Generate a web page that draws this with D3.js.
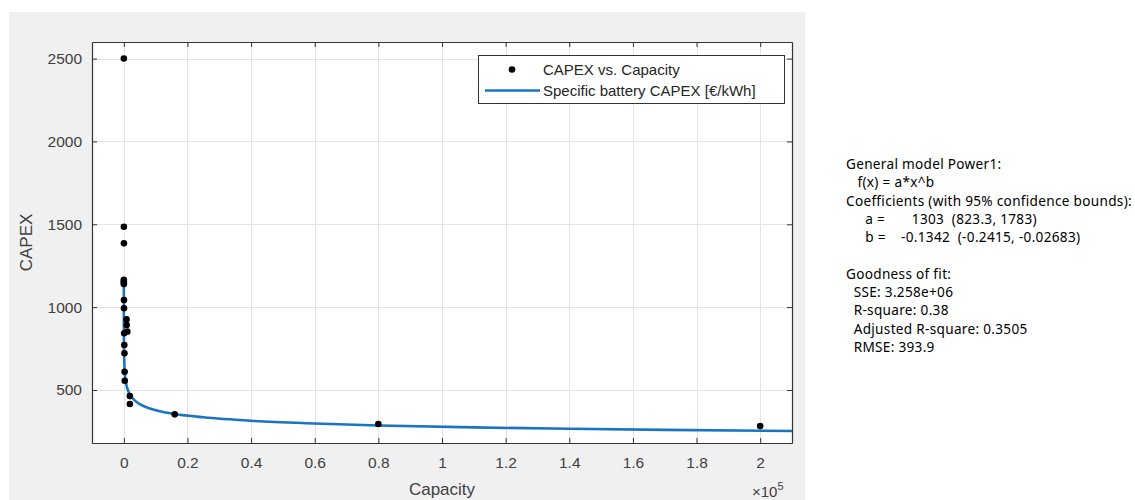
<!DOCTYPE html>
<html>
<head>
<meta charset="utf-8">
<script src="https://cdn.jsdelivr.net/npm/d3@7"></script>
<style>
  body { margin: 0; background: #fff; }
  svg { display: block; }
</style>
</head>
<body>
<svg id="chart" width="1135" height="500"></svg>
<script>
// measured points: capacity [kWh], capex [€/kWh]
const capacity = [10, 20, 30, 5, 8, 12, 15, 50, 60, 850, 900, 1100, 100, 150, 200, 250, 300, 1900, 1900, 16000, 80000, 200000];
const capex = [2500, 1485, 1385, 1165, 1155, 1145, 1140, 1043, 993, 926, 892, 852, 842, 771, 721, 610, 556, 463, 415, 353, 295, 283];

// fitted curve
const fitCapacity = [3, 10, 30, 100, 300, 600, 1000, 1500, 2000, 3000, 4000, 6000, 8000, 12000, 16000, 25000, 40000, 60000, 80000, 110000, 140000, 170000, 210000];
const fitCapex = [1124, 957, 825, 702, 606, 552, 516, 488, 470, 445, 428, 405, 390, 369, 355, 335, 314, 298, 286, 274, 266, 259, 252];

const xTicks = [0, 20000, 40000, 60000, 80000, 100000, 120000, 140000, 160000, 180000, 200000];
const yTicks = [500, 1000, 1500, 2000, 2500];

const fitInfo = [
  "General model Power1:",
  "   f(x) = a*x^b",
  "Coefficients (with 95% confidence bounds):",
  "     a =       1303  (823.3, 1783)",
  "     b =    -0.1342  (-0.2415, -0.02683)",
  "",
  "Goodness of fit:",
  "  SSE: 3.258e+06",
  "  R-square: 0.38",
  "  Adjusted R-square: 0.3505",
  "  RMSE: 393.9"
];

const svg = d3.select('#chart');
const axisColor = '#333333';
const font = '"Liberation Sans", Arial, Helvetica, sans-serif';

// figure background
svg.append('rect')
  .attr('x', 9).attr('y', 12).attr('width', 796).attr('height', 488)
  .attr('fill', '#f0f0f0');

const pLeft = 92, pRight = 792, pTop = 42, pBottom = 443;

const x = d3.scaleLinear().domain([-10000, 210000]).range([pLeft, pRight]);
const y = d3.scaleLinear().domain([180, 2600]).range([pBottom, pTop]);

svg.append('rect')
  .attr('x', pLeft).attr('y', pTop).attr('width', pRight - pLeft).attr('height', pBottom - pTop)
  .attr('fill', '#fff');

// grid
const grid = svg.append('g').attr('stroke', '#e3e3e3').attr('stroke-width', 1);
grid.selectAll('.gx').data(xTicks).enter().append('line')
  .attr('x1', d => Math.round(x(d)) + 0.5).attr('x2', d => Math.round(x(d)) + 0.5)
  .attr('y1', pTop).attr('y2', pBottom);
grid.selectAll('.gy').data(yTicks).enter().append('line')
  .attr('y1', d => Math.round(y(d)) + 0.5).attr('y2', d => Math.round(y(d)) + 0.5)
  .attr('x1', pLeft).attr('x2', pRight);

// axes
const xAxis = d3.axisBottom(x).tickValues(xTicks).tickSizeInner(-5).tickSizeOuter(0)
  .tickPadding(14).tickFormat(d => d === 0 ? '0' : d3.format('~g')(d / 1e5));
const yAxis = d3.axisLeft(y).tickValues(yTicks).tickSizeInner(-5).tickSizeOuter(0)
  .tickPadding(10).tickFormat(d3.format('d'));

const gx = svg.append('g').attr('transform', `translate(0,${pBottom})`).call(xAxis);
const gy = svg.append('g').attr('transform', `translate(${pLeft},0)`).call(yAxis);
const gxTop = svg.append('g').attr('transform', `translate(0,${pTop})`)
  .call(d3.axisTop(x).tickValues(xTicks).tickSizeInner(-5).tickSizeOuter(0).tickFormat(''));
const gyRight = svg.append('g').attr('transform', `translate(${pRight},0)`)
  .call(d3.axisRight(y).tickValues(yTicks).tickSizeInner(-5).tickSizeOuter(0).tickFormat(''));

[gx, gy, gxTop, gyRight].forEach(g => {
  g.select('.domain').attr('stroke', axisColor).attr('stroke-width', 1.2);
  g.selectAll('.tick line').attr('stroke', axisColor);
  g.selectAll('.tick text').attr('fill', '#404040').attr('font-family', font).attr('font-size', 15.5);
});

// fit line
const line = d3.line()
  .x((d, i) => x(fitCapacity[i]))
  .y(d => y(d))
  .curve(d3.curveMonotoneX);
svg.append('path')
  .datum(fitCapex)
  .attr('d', line)
  .attr('fill', 'none')
  .attr('stroke', '#1a74c4')
  .attr('stroke-width', 2.6);

// points
svg.append('g').selectAll('circle')
  .data(capex).enter().append('circle')
  .attr('cx', (d, i) => x(capacity[i]))
  .attr('cy', d => y(d))
  .attr('r', 3.3)
  .attr('fill', '#000');

// axis labels
svg.append('text')
  .attr('x', (pLeft + pRight) / 2).attr('y', 495)
  .attr('text-anchor', 'middle').attr('font-family', font).attr('font-size', 17)
  .attr('fill', '#404040').text('Capacity');
svg.append('text')
  .attr('transform', `translate(32,${(pTop + pBottom) / 2}) rotate(-90)`)
  .attr('text-anchor', 'middle').attr('font-family', font).attr('font-size', 17)
  .attr('fill', '#404040').text('CAPEX');
const mult = svg.append('text')
  .attr('x', 752).attr('y', 497).attr('font-family', font).attr('font-size', 15)
  .attr('fill', '#404040');
mult.append('tspan').text('\u00d710');
mult.append('tspan').attr('dy', -7).attr('font-size', 11).text('5');

// legend
const lg = svg.append('g');
lg.append('rect')
  .attr('x', 478.5).attr('y', 55.5).attr('width', 306).attr('height', 48)
  .attr('fill', '#fff').attr('stroke', axisColor).attr('stroke-width', 1);
lg.append('circle').attr('cx', 512).attr('cy', 69.5).attr('r', 3.3).attr('fill', '#000');
lg.append('line').attr('x1', 485).attr('x2', 540).attr('y1', 90.5).attr('y2', 90.5)
  .attr('stroke', '#1a74c4').attr('stroke-width', 2.6);
lg.append('text').attr('x', 543).attr('y', 75).attr('font-family', font).attr('font-size', 15)
  .attr('fill', '#262626').text('CAPEX vs. Capacity');
lg.append('text').attr('x', 543).attr('y', 96).attr('font-family', font).attr('font-size', 15)
  .attr('fill', '#262626').text('Specific battery CAPEX [\u20ac/kWh]');

// fit summary
svg.append('g').selectAll('text')
  .data(fitInfo).enter().append('text')
  .attr('x', 846).attr('y', (d, i) => 169 + i * 18.3)
  .attr('font-family', '"Noto Sans", "Open Sans", sans-serif').attr('font-size', 13.6)
  .attr('letter-spacing', 0.3)
  .attr('fill', '#000')
  .attr('xml:space', 'preserve')
  .style('white-space', 'pre')
  .text(d => d);
</script>
</body>
</html>
